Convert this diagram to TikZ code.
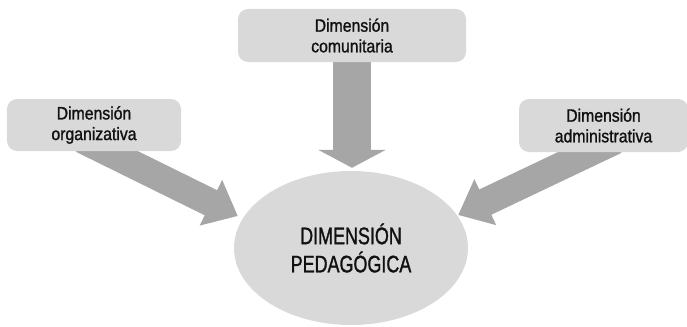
\documentclass[tikz,border=0pt]{standalone}
\usepackage{fontspec}
\setmainfont{Liberation Sans}
\newfontfamily\boxfont{Liberation Sans}[FakeStretch=0.88, FakeBold=1.2]
\newfontfamily\corefont{Liberation Sans}[FakeStretch=0.75, FakeBold=1.2]
\usetikzlibrary{calc, arrows.meta, shapes.geometric, backgrounds}
\definecolor{boxgray}{HTML}{D9D9D9}
\definecolor{arrowgray}{HTML}{A6A6A6}
\definecolor{textgray}{HTML}{111111}

\begin{document}
\begin{tikzpicture}[x=1bp, y=1bp,
            dimbox/.style={fill=boxgray, rounded corners=10bp, align=center, inner sep=0pt,
                           text=textgray, font=\boxfont\fontsize{18}{20.7}\selectfont},
            core/.style={ellipse, fill=boxgray, align=center, inner sep=0pt,
                         text=textgray, font=\corefont\fontsize{24}{28.3}\selectfont},
            midarrow/.style={draw=arrowgray, line width=38bp, -{Triangle[length=18bp, width=67bp]}},
            sidearrow/.style={draw=arrowgray, line width=28bp, -{Triangle[length=30bp, width=49bp]}}
        ]
        \useasboundingbox (0,0) rectangle (687,326);

        \node[dimbox, minimum width=228bp, minimum height=53bp] (com) at (352,290.5) {Dimensión\\comunitaria};
        \node[dimbox, minimum width=174bp, minimum height=52bp] (org) at (94,201) {Dimensión\\organizativa};
        \node[dimbox, minimum width=169bp, minimum height=53bp] (adm) at (603.5,200.5) {Dimensión\\administrativa};
        \node[core, minimum width=234bp, minimum height=154bp] (ped) at (351,78) {DIMENSIÓN\\PEDAGÓGICA};

        \begin{pgfonlayer}{background}
            \draw[midarrow] (com) -- ([yshift=3bp]com |- ped.north);
            \draw[sidearrow] ([shift={(-12bp,12bp)}]org.south) -- ([shift={(4bp,32bp)}]ped.west);
            \draw[sidearrow] ([shift={(12bp,12bp)}]adm.south) -- ([shift={(-10bp,33bp)}]ped.east);
        \end{pgfonlayer}
    \end{tikzpicture}
\end{document}
